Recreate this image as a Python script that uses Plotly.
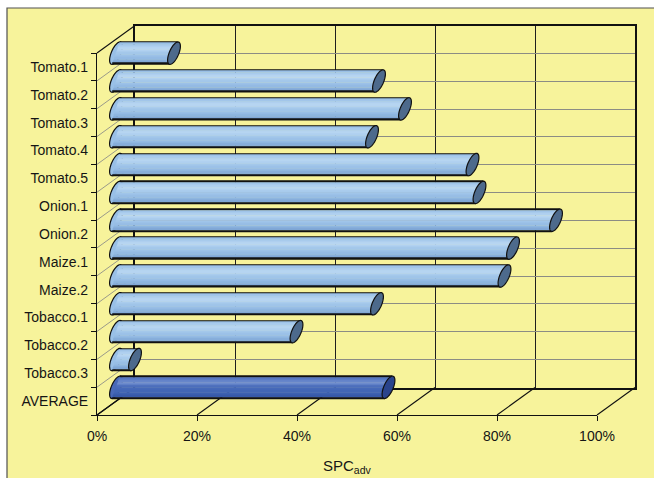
import math
import plotly.graph_objects as go

# ---- data -------------------------------------------------------------
categories = ["Tomato.1", "Tomato.2", "Tomato.3", "Tomato.4", "Tomato.5",
              "Onion.1", "Onion.2", "Maize.1", "Maize.2",
              "Tobacco.1", "Tobacco.2", "Tobacco.3", "AVERAGE"]
spc_adv = [11.6, 52.6, 57.8, 51.2, 71.3, 72.7, 88.0, 79.4, 77.7,
           52.2, 36.1, 3.8, 54.5]
x_ticks = [0, 20, 40, 60, 80, 100]
x_tick_labels = ["0%", "20%", "40%", "60%", "80%", "100%"]
x_title = "SPC<sub>adv</sub>"

# ---- page / pseudo-3D geometry (pixels) -------------------------------
W, H = 654, 478
FX0, FX1 = 97, 597          # front plane, 0% .. 100%
FY0, FY1 = 53, 415          # front plane, top .. bottom
DX, DY = 38, -27.5          # depth offset of the back wall
N = len(categories)
PPX = (FX1 - FX0) / 100.0   # pixels per percent
PPY = (FY1 - FY0) / N       # pixels per category
PAD = 4                     # extra percent left of the bar plane (rounded ends)

BG = "#F7F39B"
FONT = "Liberation Sans, Arial, sans-serif"


def px(p):
    return p / W


def py(p):
    return 1 - p / H


def dom_x(a, b):
    return [px(a), px(b)]


def dom_y(top, bottom):
    return [py(bottom), py(top)]


# cylinder geometry (pixels): half height, cap half width, perspective skew
BH = 11.2
CAP_A = 5.0
SKEW = 4.0
EDGE = 1.2

light_grad = [(0.0, "#8FB7E1"), (0.18, "#A8CBED"), (0.33, "#BAD7F2"),
              (0.48, "#A7CAEC"), (0.75, "#93BAE3"), (1.0, "#769ECF")]
dark_grad = [(0.0, "#4B6DBA"), (0.18, "#5B7CC5"), (0.33, "#7592D0"),
             (0.48, "#4A6CBB"), (0.75, "#4064B4"), (1.0, "#3253A3")]


def hex2rgb(h):
    h = h.lstrip("#")
    return [int(h[i:i + 2], 16) for i in (0, 2, 4)]


def grad_at(grad, t):
    for (t0, c0), (t1, c1) in zip(grad[:-1], grad[1:]):
        if t0 <= t <= t1:
            f = (t - t0) / (t1 - t0) if t1 > t0 else 0
            a, b = hex2rgb(c0), hex2rgb(c1)
            r = [round(a[k] + (b[k] - a[k]) * f) for k in range(3)]
            return "rgb(%d,%d,%d)" % tuple(r)
    return grad[-1][1]


is_avg = [c == "AVERAGE" for c in categories]
ys = list(range(N))

fig = go.Figure()

# empty traces so the back-wall and front-axis subplots get drawn
fig.add_trace(go.Scatter(x=[], y=[], xaxis="x", yaxis="y",
                         hoverinfo="skip", showlegend=False))

# ---- cylinder bodies built from thin horizontal bands --------------------
bands = [(-BH, -BH + EDGE, None)]
n_inner = 16
inner = 2 * (BH - EDGE)
for j in range(n_inner):
    p0 = -BH + EDGE + j * inner / n_inner
    p1 = p0 + inner / n_inner
    bands.append((p0, p1, ((p0 + p1) / 2 + BH) / (2 * BH)))
bands.append((BH - EDGE, BH, None))

for p0, p1, t in bands:
    mid = (p0 + p1) / 2
    shift = -SKEW * mid / BH / PPX
    if t is None:
        colors = ["#111111"] * N
    else:
        colors = [grad_at(dark_grad if a else light_grad, t) for a in is_avg]
    fig.add_trace(go.Bar(
        y=ys, x=spc_adv, base=shift, orientation="h",
        offset=p0 / PPY, width=(p1 - p0 + 0.35) / PPY,
        marker=dict(color=colors, line=dict(width=0)),
        xaxis="x2", yaxis="y2", hoverinfo="skip", showlegend=False,
    ))

fig.add_trace(go.Scatter(x=[], y=[], xaxis="x3", yaxis="y3",
                         hoverinfo="skip", showlegend=False))


def ellipse_path(cx, cy):
    pts = []
    steps = 48
    for k in range(steps):
        th = 2 * math.pi * k / steps
        dy = BH * math.sin(th)
        dx = CAP_A * math.cos(th) - SKEW * dy / BH
        pts.append((cx + dx / PPX, cy + dy / PPY))
    return "M " + " L ".join("%.4f,%.4f" % p for p in pts) + " Z"


shapes = []

# chart area frame
shapes.append(dict(type="rect", xref="paper", yref="paper", layer="below",
                   x0=px(7), x1=1.05, y0=py(8), y1=-0.05,
                   fillcolor=BG, line=dict(color="#505050", width=1.2)))

# left wall: category boundary lines running into depth
for k in range(N + 1):
    yf = FY0 + k * PPY
    edge = k in (0, N)
    shapes.append(dict(type="line", xref="paper", yref="paper", layer="below",
                       x0=px(FX0), y0=py(yf), x1=px(FX0 + DX), y1=py(yf + DY),
                       line=dict(color="#111111" if edge else "#9A9A8A",
                                 width=1.1 if edge else 1)))

# floor: percentage lines running into depth
for v in x_ticks:
    xf = FX0 + v * PPX
    shapes.append(dict(type="line", xref="paper", yref="paper", layer="below",
                       x0=px(xf), y0=py(FY1), x1=px(xf + DX), y1=py(FY1 + DY),
                       line=dict(color="#111111", width=1.1)))

# rounded left ends (under the bodies) and right caps (on top)
for i, v in enumerate(spc_adv):
    fill_l = "#99C0E7" if not is_avg[i] else "#4869B8"
    fill_r = "#4D6A8C" if not is_avg[i] else "#2A448C"
    shapes.append(dict(type="path", xref="x2", yref="y2", layer="below",
                       path=ellipse_path(0, i), fillcolor=fill_l,
                       line=dict(color="#111111", width=1.2)))
    shapes.append(dict(type="path", xref="x2", yref="y2", layer="above",
                       path=ellipse_path(v, i), fillcolor=fill_r,
                       line=dict(color="#111111", width=1.2)))

axis_font = dict(family=FONT, size=14, color="#151515")
bx0 = FX0 + DX / 2 - PAD * PPX
bx1 = FX1 + DX / 2

fig.update_layout(
    template="none",
    width=W, height=H,
    margin=dict(l=0, r=0, t=0, b=0, pad=0),
    paper_bgcolor="white",
    plot_bgcolor="rgba(0,0,0,0)",
    font=dict(family=FONT, size=14, color="#151515"),
    barmode="overlay",
    showlegend=False,
    shapes=shapes,
    # back wall
    xaxis=dict(domain=dom_x(FX0 + DX, FX1 + DX), anchor="y", range=[0, 100],
               tickmode="array", tickvals=x_ticks, showticklabels=False,
               ticks="", showgrid=True, gridcolor="#1E1E1E", gridwidth=1,
               zeroline=False, showline=True, mirror=True,
               linecolor="#111111", linewidth=1.5, fixedrange=True,
               automargin=False),
    yaxis=dict(domain=dom_y(FY0 + DY, FY1 + DY), anchor="x",
               range=[N - 0.5, -0.5], tickmode="array",
               tickvals=[k - 0.5 for k in range(N + 1)],
               showticklabels=False, ticks="", showgrid=True,
               gridcolor="#8C8C84", gridwidth=1, zeroline=False,
               showline=True, mirror=True, linecolor="#111111",
               linewidth=2, fixedrange=True, automargin=False),
    # mid-depth plane carrying the cylinders
    xaxis2=dict(domain=dom_x(bx0, bx1), anchor="y2", range=[-PAD, 100],
                visible=False, fixedrange=True, automargin=False),
    yaxis2=dict(domain=dom_y(FY0 + DY / 2, FY1 + DY / 2), anchor="x2",
                range=[N - 0.5, -0.5], visible=False, fixedrange=True,
                automargin=False),
    # front plane with the labelled axes
    xaxis3=dict(domain=dom_x(FX0, FX1), anchor="y3", range=[0, 100],
                tickmode="array", tickvals=x_ticks, ticktext=x_tick_labels,
                ticks="outside", ticklen=5, tickcolor="#111111",
                showgrid=False, zeroline=False, showline=True,
                linecolor="#111111", linewidth=1.1, tickfont=axis_font,
                ticklabelstandoff=3, fixedrange=True, automargin=False),
    yaxis3=dict(domain=dom_y(FY0, FY1), anchor="x3",
                range=[N - 0.5, -0.5], tickmode="array",
                tickvals=ys, ticktext=categories, ticks="",
                minor=dict(tickmode="array",
                           tickvals=[k - 0.5 for k in range(N + 1)],
                           ticks="outside", ticklen=5, tickcolor="#111111",
                           showgrid=False),
                showgrid=False, zeroline=False, showline=True,
                linecolor="#111111", linewidth=1.1, tickfont=axis_font,
                ticklabelstandoff=5, fixedrange=True, automargin=False),
    annotations=[dict(text=x_title, xref="paper", yref="paper",
                      x=px((FX0 + FX1) / 2), y=py(466),
                      xanchor="center", yanchor="middle", showarrow=False,
                      font=dict(family=FONT, size=15, color="#151515"))],
)

fig.write_html("out.html")
